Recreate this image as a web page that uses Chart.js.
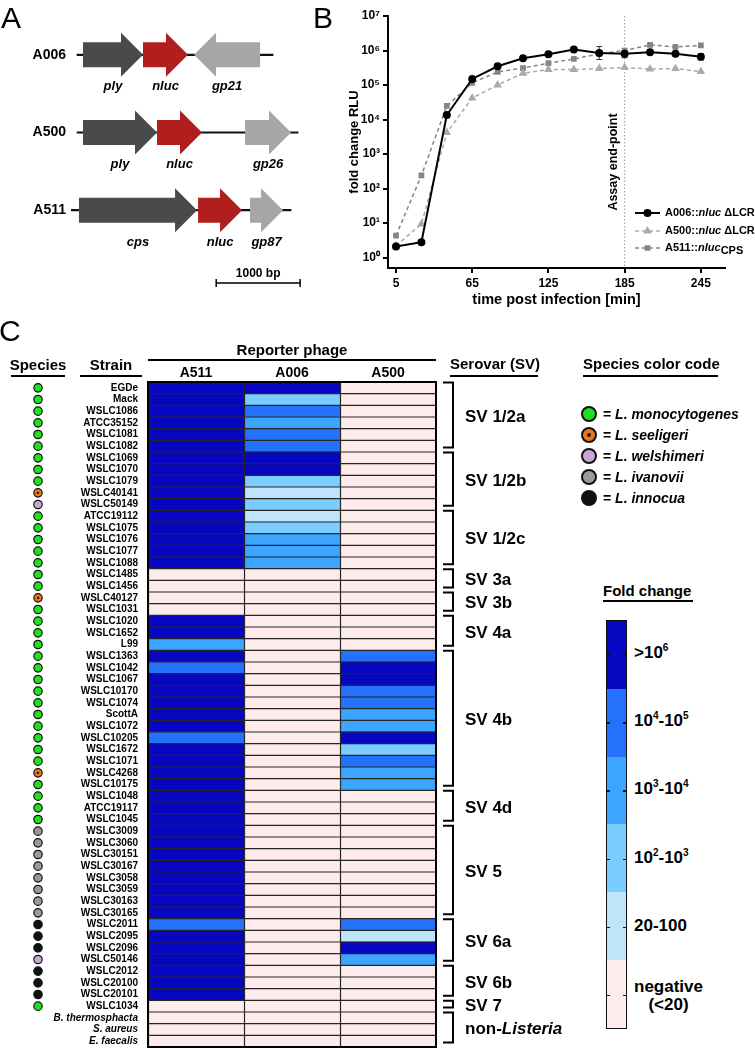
<!DOCTYPE html>
<html>
<head>
<meta charset="utf-8">
<script src="https://cdn.jsdelivr.net/npm/chart.js@4.4.1/dist/chart.umd.min.js"></script>
<style>
body{margin:0;background:#fff;}
#page{position:relative;width:755px;height:1049px;overflow:hidden;font-family:'Liberation Sans',Arial,sans-serif;color:#000;}
canvas{position:absolute;}
.t{position:absolute;white-space:nowrap;line-height:1;font-weight:bold;}
.u{position:absolute;height:2px;background:#000;}
.dot{position:absolute;width:12px;height:12px;border:2px solid #111;border-radius:50%;}
.cb{position:absolute;left:606px;top:620px;width:21px;height:409px;border:1.5px solid #111;box-sizing:border-box;display:flex;flex-direction:column;}
.cb div{flex:1;}
.tk{position:absolute;width:3px;height:1.5px;background:#111;}
sup{font-size:10px;vertical-align:0;position:relative;top:-7px;}
</style>
</head>
<body>
<div id="page">
  <canvas id="genes" width="320" height="300" style="left:0;top:0"></canvas>
  <canvas id="rlu" width="435" height="310" style="left:320px;top:0"></canvas>
  <canvas id="heat" width="590" height="723" style="left:0;top:340px"></canvas>

  <div class="t" style="left:1px;top:3px;font-size:30px;font-weight:normal">A</div>
  <div class="t" style="left:313px;top:3px;font-size:30px;font-weight:normal">B</div>
  <div class="t" style="left:-1px;top:316px;font-size:30px;font-weight:normal">C</div>

  <div class="t" style="left:0;width:76px;text-align:center;top:357px;font-size:15px">Species</div>
  <div class="u" style="left:11px;width:54px;top:375px"></div>
  <div class="t" style="left:71px;width:80px;text-align:center;top:357px;font-size:15px">Strain</div>
  <div class="u" style="left:80px;width:62px;top:375px"></div>
  <div class="t" style="left:192px;width:200px;text-align:center;top:342px;font-size:15px">Reporter phage</div>
  <div class="u" style="left:148px;width:288px;top:359px"></div>
  <div class="t" style="left:450px;top:356px;font-size:15px">Serovar (SV)</div>
  <div class="u" style="left:450px;width:88px;top:375px"></div>
  <div class="t" style="left:583px;top:356px;font-size:15px">Species color code</div>
  <div class="u" style="left:583px;width:135px;top:375px"></div>
  <div id="spLegend"></div>

  <div class="t" style="left:603px;top:583px;font-size:15px">Fold change</div>
  <div class="u" style="left:603px;width:90px;top:600px"></div>
  <div class="cb" id="cbar"></div>
  <div id="cbLabels"></div>
</div>
<script>
const FONT = "'Liberation Sans', Arial, sans-serif";
Chart.defaults.font.family = FONT;
Chart.defaults.color = '#000';

// ---- panel A: reporter gene maps (bp)
const genomes = ['A006', 'A500', 'A511'];
const backbone = [[72, 2408], [72, 2706], [0, 2622]];
const geneNames = [['ply', 'nluc', 'gp21'], ['ply', 'nluc', 'gp26'], ['cps', 'nluc', 'gp87']];
const geneStart = [[143, 858, 2253], [143, 1025, 2074], [95, 1514, 2133]];
const geneEnd = [[858, 1394, 1466], [1025, 1561, 2622], [1502, 2038, 2527]];
const geneColors = ['#4a4a4a', '#b01e1e', '#a6a6a6'];
const scaleBar = [1730, 2730];

// ---- panel B: luminescence time course
const timePoints = [5, 25, 45, 65, 85, 105, 125, 145, 165, 185, 205, 225, 245];
const a006Rlu = [2.1, 2.8, 1.35e4, 1.5e5, 3.5e5, 6e5, 7.8e5, 1.07e6, 8.5e5, 8e5, 8.9e5, 8e5, 6.6e5];
const a500Rlu = [2.2, 9.4, 4.2e3, 4.2e4, 1.0e5, 2.2e5, 2.8e5, 2.8e5, 3.0e5, 3.2e5, 2.9e5, 3.0e5, 2.45e5];
const a511Rlu = [4.3, 240, 2.5e4, 1.15e5, 2.4e5, 3.1e5, 4.3e5, 5.7e5, 8e5, 1.0e6, 1.45e6, 1.27e6, 1.4e6];
const a006Lo = [null, null, null, null, null, null, null, null, 5.5e5, 6.2e5, null, null, 5.3e5];
const a006Hi = [null, null, null, null, null, null, null, null, 1.3e6, 1.0e6, null, null, 8e5];
const xTicks = [5, 65, 125, 185, 245];
const yTicks = [1, 10, 100, 1e3, 1e4, 1e5, 1e6, 1e7];
const endPoint = 185;
const sup = ['⁰', '¹', '²', '³', '⁴', '⁵', '⁶', '⁷'];

// ---- panel C: host range heat map
const strains = ['EGDe', 'Mack', 'WSLC1086', 'ATCC35152', 'WSLC1081', 'WSLC1082', 'WSLC1069', 'WSLC1070',
  'WSLC1079', 'WSLC40141', 'WSLC50149', 'ATCC19112', 'WSLC1075', 'WSLC1076', 'WSLC1077', 'WSLC1088',
  'WSLC1485', 'WSLC1456', 'WSLC40127', 'WSLC1031', 'WSLC1020', 'WSLC1652', 'L99', 'WSLC1363', 'WSLC1042',
  'WSLC1067', 'WSLC10170', 'WSLC1074', 'ScottA', 'WSLC1072', 'WSLC10205', 'WSLC1672', 'WSLC1071',
  'WSLC4268', 'WSLC10175', 'WSLC1048', 'ATCC19117', 'WSLC1045', 'WSLC3009', 'WSLC3060', 'WSLC30151',
  'WSLC30167', 'WSLC3058', 'WSLC3059', 'WSLC30163', 'WSLC30165', 'WSLC2011', 'WSLC2095', 'WSLC2096',
  'WSLC50146', 'WSLC2012', 'WSLC20100', 'WSLC20101', 'WSLC1034', 'B. thermosphacta', 'S. aureus', 'E. faecalis'];
const phages = ['A511', 'A006', 'A500'];
// 0 negative, 1 20-100, 2 1e2-1e3, 3 1e3-1e4, 4 1e4-1e5, 5 >1e6
const a511Level = [5,5,5,5,5,5,5,5,5,5,5,5,5,5,5,5, 0,0,0,0, 5,5,3, 5,4,5,5,5,5,5,4,5,5,5,5, 5,5,5,
  5,5,5,5,5,5,5,5, 4,5,5,5, 5,5,5, 0, 0,0,0];
const a006Level = [5,2,4,3,4,4,5,5,2,1,2,1,2,3,3,3, 0,0,0,0, 0,0,0, 0,0,0,0,0,0,0,0,0,0,0,0, 0,0,0,
  0,0,0,0,0,0,0,0, 0,0,0,0, 0,0,0, 0, 0,0,0];
const a500Level = [0,0,0,0,0,0,0,0,0,0,0,0,0,0,0,0, 0,0,0,0, 0,0,0, 4,5,5,4,4,3,3,5,2,4,3,3, 0,0,0,
  0,0,0,0,0,0,0,0, 4,1,5,3, 0,0,0, 0, 0,0,0];
const levelColors = ['#fdeceb', '#bfe5fb', '#7bcdff', '#3ba5ff', '#2471fb', '#0707c2'];
const foldLabels = ['>10<sup>6</sup>', '10<sup>4</sup>-10<sup>5</sup>', '10<sup>3</sup>-10<sup>4</sup>',
  '10<sup>2</sup>-10<sup>3</sup>', '20-100', 'negative'];
const species = ['mono','mono','mono','mono','mono','mono','mono','mono','mono','seel','wel','mono','mono',
  'mono','mono','mono','mono','mono','seel','mono','mono','mono','mono','mono','mono','mono','mono','mono',
  'mono','mono','mono','mono','mono','seel','mono','mono','mono','mono','iva','iva','iva','iva','iva','iva',
  'iva','iva','inn','inn','inn','wel','inn','inn','inn','mono', null, null, null];
const speciesKeys = ['mono', 'seel', 'wel', 'iva', 'inn'];
const speciesNames = ['L. monocytogenes', 'L. seeligeri', 'L. welshimeri', 'L. ivanovii', 'L. innocua'];
const speciesColors = {mono: '#1ee21e', seel: '#e8781e', wel: '#c9a8d8', iva: '#9a9a9a', inn: '#111111'};
const serovars = ['SV 1/2a', 'SV 1/2b', 'SV 1/2c', 'SV 3a', 'SV 3b', 'SV 4a', 'SV 4b', 'SV 4d', 'SV 5',
  'SV 6a', 'SV 6b', 'SV 7', 'non-Listeria'];
const serovarStart = [0, 6, 11, 16, 18, 20, 23, 35, 38, 46, 50, 53, 54];
const serovarEnd = [5, 10, 15, 17, 19, 22, 34, 37, 45, 49, 52, 53, 56];

// ===== panel A
const genePlugin = {
  id: 'genes',
  afterDatasetsDraw(chart) {
    const {ctx, chartArea, scales: {x, y}} = chart;
    ctx.save();
    genomes.forEach((g, i) => {
      const cy = y.getPixelForValue(i);
      geneNames[i].forEach((name, j) => {
        const x1 = x.getPixelForValue(geneStart[i][j]);
        const x2 = x.getPixelForValue(geneEnd[i][j]);
        const dir = Math.sign(x2 - x1);
        const neck = x2 - dir * Math.min(22, Math.abs(x2 - x1));
        ctx.beginPath();
        ctx.moveTo(x1, cy - 12.5);
        ctx.lineTo(neck, cy - 12.5);
        ctx.lineTo(neck, cy - 22);
        ctx.lineTo(x2, cy);
        ctx.lineTo(neck, cy + 22);
        ctx.lineTo(neck, cy + 12.5);
        ctx.lineTo(x1, cy + 12.5);
        ctx.closePath();
        ctx.fillStyle = geneColors[j];
        ctx.fill();
        ctx.font = 'italic bold 13px ' + FONT;
        ctx.textAlign = 'center';
        ctx.textBaseline = 'middle';
        ctx.fillStyle = '#000';
        ctx.fillText(name, (x1 + x2) / 2, cy + 32);
      });
    });
    const sy = chartArea.bottom + 34;
    const s1 = x.getPixelForValue(scaleBar[0]), s2 = x.getPixelForValue(scaleBar[1]);
    ctx.strokeStyle = '#000';
    ctx.lineWidth = 1.5;
    ctx.beginPath();
    ctx.moveTo(s1, sy); ctx.lineTo(s2, sy);
    ctx.moveTo(s1, sy - 4); ctx.lineTo(s1, sy + 4);
    ctx.moveTo(s2, sy - 4); ctx.lineTo(s2, sy + 4);
    ctx.stroke();
    ctx.font = 'bold 12px ' + FONT;
    ctx.fillText((scaleBar[1] - scaleBar[0]) + ' bp', (s1 + s2) / 2, sy - 9);
    ctx.restore();
  }
};

new Chart(document.getElementById('genes'), {
  type: 'bar',
  data: {
    labels: genomes,
    datasets: [{data: backbone, backgroundColor: '#111', barThickness: 1.5, borderWidth: 0}]
  },
  options: {
    indexAxis: 'y',
    responsive: false,
    animation: false,
    layout: {padding: {top: 16, bottom: 51, right: 14, left: 0}},
    plugins: {legend: {display: false}, tooltip: {enabled: false}},
    scales: {
      x: {type: 'linear', min: 0, max: 2800, display: false},
      y: {
        ticks: {font: {size: 14, weight: 'bold'}, color: '#000', padding: 5},
        grid: {display: false, drawTicks: false}, border: {display: false},
        afterFit: s => { s.width = 71; }
      }
    }
  },
  plugins: [genePlugin]
});

// ===== panel B
function drawRich(ctx, x, y, parts) {
  parts.forEach(p => {
    ctx.font = (p.italic ? 'italic ' : '') + 'bold 11px ' + FONT;
    ctx.fillText(p.t, x, y + (p.dy || 0));
    x += ctx.measureText(p.t).width;
  });
}

const legendItems = [
  [{t: 'A006::'}, {t: 'nluc', italic: true}, {t: ' ΔLCR'}],
  [{t: 'A500::'}, {t: 'nluc', italic: true}, {t: ' ΔLCR'}],
  [{t: 'A511::'}, {t: 'nluc', italic: true}, {t: 'CPS', dy: 3}]
];

const rluPlugin = {
  id: 'rluDecor',
  beforeDatasetsDraw(chart) {
    const {ctx, chartArea: a, scales: {x, y}} = chart;
    const ex = x.getPixelForValue(endPoint);
    ctx.save();
    ctx.strokeStyle = '#999';
    ctx.lineWidth = 1;
    ctx.setLineDash([1.5, 2]);
    ctx.beginPath();
    ctx.moveTo(ex, a.top); ctx.lineTo(ex, a.bottom);
    ctx.stroke();
    ctx.setLineDash([]);
    ctx.fillStyle = '#000';
    ctx.font = 'bold 12.5px ' + FONT;
    ctx.textAlign = 'center';
    ctx.textBaseline = 'middle';
    ctx.translate(ex - 11, a.top + 146);
    ctx.rotate(-Math.PI / 2);
    ctx.fillText('Assay end-point', 0, 0);
    ctx.restore();

    ctx.save();
    ctx.strokeStyle = '#333';
    ctx.lineWidth = 1;
    timePoints.forEach((t, i) => {
      if (a006Hi[i] == null) return;
      const px = x.getPixelForValue(t);
      const y1 = y.getPixelForValue(a006Hi[i]), y2 = y.getPixelForValue(a006Lo[i]);
      ctx.beginPath();
      ctx.moveTo(px, y1); ctx.lineTo(px, y2);
      ctx.moveTo(px - 3, y1); ctx.lineTo(px + 3, y1);
      ctx.moveTo(px - 3, y2); ctx.lineTo(px + 3, y2);
      ctx.stroke();
    });
    ctx.restore();
  },
  afterDraw(chart) {
    const {ctx} = chart;
    const ys = [213, 231, 248];
    ctx.save();
    chart.data.datasets.forEach((ds, i) => {
      const cy = ys[i];
      ctx.strokeStyle = ds.borderColor;
      ctx.fillStyle = ds.borderColor;
      ctx.lineWidth = ds.borderWidth;
      ctx.setLineDash(ds.borderDash || []);
      ctx.beginPath();
      ctx.moveTo(315, cy); ctx.lineTo(340, cy);
      ctx.stroke();
      ctx.setLineDash([]);
      Chart.helpers.drawPoint(ctx, {pointStyle: ds.pointStyle, radius: ds.pointRadius, borderWidth: 1}, 327.5, cy);
      ctx.fillStyle = '#000';
      ctx.textBaseline = 'middle';
      drawRich(ctx, 345, cy, legendItems[i]);
    });
    ctx.restore();
  }
};

new Chart(document.getElementById('rlu'), {
  type: 'line',
  data: {
    datasets: [
      {label: 'A006', data: timePoints.map((t, i) => ({x: t, y: a006Rlu[i]})), borderColor: '#000',
        backgroundColor: '#000', borderWidth: 2, pointStyle: 'circle', pointRadius: 3},
      {label: 'A500', data: timePoints.map((t, i) => ({x: t, y: a500Rlu[i]})), borderColor: '#aaaaaa',
        backgroundColor: '#aaaaaa', borderWidth: 1.5, borderDash: [4, 3], pointStyle: 'triangle', pointRadius: 3.5},
      {label: 'A511', data: timePoints.map((t, i) => ({x: t, y: a511Rlu[i]})), borderColor: '#858585',
        backgroundColor: '#858585', borderWidth: 1.5, borderDash: [4, 3], pointStyle: 'rect', pointRadius: 3}
    ]
  },
  options: {
    responsive: false,
    animation: false,
    layout: {padding: {top: 16, right: 30, left: 0, bottom: 0}},
    plugins: {legend: {display: false}, tooltip: {enabled: false}},
    scales: {
      x: {
        type: 'linear', min: -1.3, max: 264,
        afterBuildTicks: s => { s.ticks = xTicks.map(v => ({value: v})); },
        ticks: {font: {size: 12, weight: 'bold'}, color: '#000', padding: 3, maxRotation: 0},
        grid: {drawOnChartArea: false, color: '#000', lineWidth: 2, tickLength: 5},
        border: {color: '#000', width: 2},
        title: {display: true, text: 'time post infection [min]', font: {size: 14.5, weight: 'bold'},
          color: '#000', padding: {top: 0, bottom: 1}},
        afterFit: s => { s.height = 42; }
      },
      y: {
        type: 'logarithmic', min: 0.5, max: 1e7,
        afterBuildTicks: s => { s.ticks = yTicks.map(v => ({value: v})); },
        ticks: {font: {size: 12, weight: 'bold'}, color: '#000', padding: 3,
          callback: v => '10' + sup[Math.round(Math.log10(v))]},
        grid: {drawOnChartArea: false, color: '#000', lineWidth: 2, tickLength: 5},
        border: {color: '#000', width: 2},
        title: {display: true, text: 'fold change RLU', font: {size: 13, weight: 'bold'},
          color: '#000', padding: {top: 27, bottom: 0}},
        afterFit: s => { s.width = 68; }
      }
    }
  },
  plugins: [rluPlugin]
});

// ===== panel C
const heatPlugin = {
  id: 'heatDecor',
  afterDatasetsDraw(chart) {
    const {ctx, chartArea: a, scales: {x, y}} = chart;
    const rowH = (a.bottom - a.top) / strains.length;
    ctx.save();
    ctx.strokeStyle = '#262626';
    ctx.lineWidth = 1.2;
    ctx.beginPath();
    strains.forEach((s, i) => {
      const yy = y.getPixelForValue(i) - rowH / 2;
      ctx.moveTo(a.left, yy); ctx.lineTo(a.right, yy);
    });
    phages.forEach((p, k) => {
      const xx = Math.round(x.getPixelForValue(k)) + 0.5;
      ctx.moveTo(xx, a.top); ctx.lineTo(xx, a.bottom);
    });
    ctx.stroke();
    ctx.lineWidth = 2;
    ctx.strokeStyle = '#000';
    ctx.strokeRect(a.left, a.top, a.right - a.left, a.bottom - a.top);
    ctx.restore();
  },
  afterDraw(chart) {
    const {ctx, chartArea: a, scales: {y}} = chart;
    const rowH = (a.bottom - a.top) / strains.length;
    ctx.save();
    species.forEach((sp, i) => {
      if (!sp) return;
      const cy = y.getPixelForValue(i);
      ctx.beginPath();
      ctx.arc(38, cy, 4.2, 0, Math.PI * 2);
      ctx.fillStyle = speciesColors[sp];
      ctx.fill();
      ctx.lineWidth = 1.2;
      ctx.strokeStyle = '#111';
      ctx.stroke();
      if (sp === 'seel') {
        ctx.beginPath();
        ctx.arc(38, cy, 1.2, 0, Math.PI * 2);
        ctx.fillStyle = '#111';
        ctx.fill();
      }
    });

    ctx.strokeStyle = '#000';
    ctx.lineWidth = 2;
    ctx.fillStyle = '#000';
    ctx.textBaseline = 'middle';
    serovars.forEach((name, g) => {
      const top = y.getPixelForValue(serovarStart[g]) - rowH / 2 + 0.5;
      const bot = y.getPixelForValue(serovarEnd[g]) + rowH / 2 - 4.5;
      ctx.beginPath();
      ctx.moveTo(443, top); ctx.lineTo(453, top); ctx.lineTo(453, bot); ctx.lineTo(443, bot);
      ctx.stroke();
      const cy = (y.getPixelForValue(serovarStart[g]) + y.getPixelForValue(serovarEnd[g])) / 2;
      if (name.startsWith('non-')) {
        ctx.font = 'bold 17px ' + FONT;
        ctx.fillText('non-', 465, cy);
        const w = ctx.measureText('non-').width;
        ctx.font = 'italic bold 17px ' + FONT;
        ctx.fillText(name.slice(4), 465 + w, cy);
      } else {
        ctx.font = 'bold 17px ' + FONT;
        ctx.fillText(name, 465, cy);
      }
    });
    ctx.restore();
  }
};

const levelsByPhage = [a511Level, a006Level, a500Level];
new Chart(document.getElementById('heat'), {
  type: 'bar',
  data: {
    labels: strains,
    datasets: phages.map((p, k) => ({
      label: p,
      data: strains.map(() => 1),
      backgroundColor: levelsByPhage[k].map(l => levelColors[l]),
      borderWidth: 0,
      barPercentage: 1,
      categoryPercentage: 1
    }))
  },
  options: {
    indexAxis: 'y',
    responsive: false,
    animation: false,
    layout: {autoPadding: false, padding: {left: 0, right: 154, top: 0, bottom: 2}},
    plugins: {legend: {display: false}, tooltip: {enabled: false}},
    scales: {
      x: {type: 'linear', stacked: true, min: 0, max: 3, display: false},
      xTop: {
        type: 'linear', position: 'top', min: 0, max: 3,
        afterBuildTicks: s => { s.ticks = [0.5, 1.5, 2.5].map(v => ({value: v})); },
        ticks: {callback: (v, i) => phages[i], font: {size: 14, weight: 'bold'}, color: '#000',
          padding: 0, autoSkip: false, maxRotation: 0},
        grid: {display: false, drawTicks: false},
        border: {display: false},
        afterFit: s => { s.height = 42; }
      },
      y: {
        stacked: true,
        ticks: {autoSkip: false, color: '#000', padding: 10,
          font: c => ({size: 10, weight: 'bold', style: c.index >= 54 ? 'italic' : 'normal'})},
        grid: {display: false, drawTicks: false},
        border: {display: false},
        afterFit: s => { s.width = 148; }
      }
    }
  },
  plugins: [heatPlugin]
});

// ===== species legend and fold-change colour bar
const spLegend = document.getElementById('spLegend');
speciesKeys.forEach((k, i) => {
  const cy = 414 + i * 21;
  const inner = k === 'seel' ? '<div style="position:absolute;left:4px;top:4px;width:4px;height:4px;border-radius:50%;background:#111"></div>' : '';
  spLegend.insertAdjacentHTML('beforeend',
    `<div class="dot" style="left:581px;top:${cy - 8}px;background:${speciesColors[k]}">${inner}</div>` +
    `<div class="t" style="left:603px;top:${cy - 7}px;font-size:14px">= <i>${speciesNames[i]}</i></div>`);
});

const cbar = document.getElementById('cbar');
const cbLabels = document.getElementById('cbLabels');
const segH = 409 / foldLabels.length;
foldLabels.forEach((lab, i) => {
  const colour = levelColors[levelColors.length - 1 - i];
  cbar.insertAdjacentHTML('beforeend', `<div style="background:${colour}"></div>`);
  const cy = 620 + segH * (i + 0.5);
  cbLabels.insertAdjacentHTML('beforeend',
    `<div class="tk" style="left:607px;top:${cy}px"></div><div class="tk" style="left:623px;top:${cy}px"></div>`);
  if (lab === 'negative') {
    cbLabels.insertAdjacentHTML('beforeend',
      `<div class="t" style="left:634px;top:${cy - 17}px;font-size:17px;line-height:18px;text-align:center">negative<br>(&lt;20)</div>`);
  } else {
    cbLabels.insertAdjacentHTML('beforeend',
      `<div class="t" style="left:634px;top:${cy - 10}px;font-size:17px">${lab}</div>`);
  }
});
</script>
</body>
</html>
